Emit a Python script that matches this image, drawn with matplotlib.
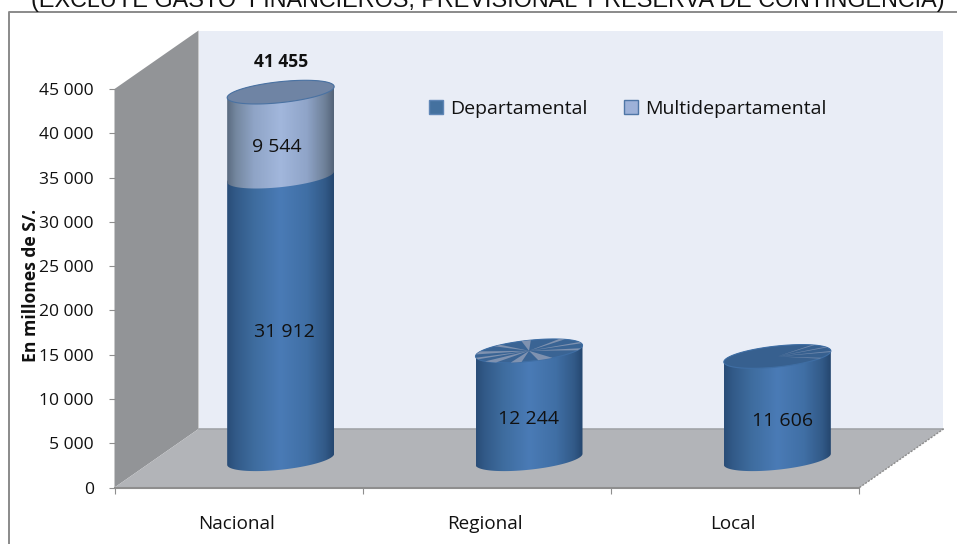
import numpy as np
import matplotlib
matplotlib.use("Agg")
import matplotlib.pyplot as plt
from matplotlib.colors import LinearSegmentedColormap
from matplotlib.patches import Patch, PathPatch, Polygon
from matplotlib.path import Path
from matplotlib.ticker import FuncFormatter
from matplotlib.transforms import ScaledTranslation

categories = ["Nacional", "Regional", "Local"]
departamental = [31912, 12244, 11606]
multidepartamental = [9544, 0, 0]
total_label = "41 455"
series_names = ["Departamental", "Multidepartamental"]
y_ticks = list(range(0, 45001, 5000))
title = "(EXCLUYE GASTO  FINANCIEROS, PREVISIONAL Y RESERVA DE CONTINGENCIA)"
y_label = "En millones de S/."

W, H = 957, 544
FONT = "Open Sans"
plt.rcParams["font.family"] = [FONT, "DejaVu Sans"]

fig = plt.figure(figsize=(W / 100, H / 100), dpi=100, facecolor="white")
L, R, B, T = 114.5, 859.5, 487.5, 89.0
ax = fig.add_axes([L / W, 1 - B / H, (R - L) / W, (B - T) / H])
ax.set_xlim(-0.5, 2.5)
ax.set_ylim(0, 45000)
ax.patch.set_visible(False)

PX_X = 3.0 / (R - L)          # data units per pixel
PX_Y = 45000 / (B - T)
DX, DY = 84 * PX_X, 58.5 * PX_Y
A = 53.5 * PX_X               # cylinder half width
EB = 10.5 * PX_Y              # ellipse half height
TILT = 5.5 * PX_Y             # ellipse tilt (right side up)
V0 = DY / 2 - 1 * PX_Y

# outer frame
fig.add_artist(plt.Line2D([8.5 / W, 8.5 / W, 1], [0, 1 - 11.5 / H, 1 - 11.5 / H],
                          color="#8a8a8a", lw=1.4))

# walls and floor
ax.add_patch(Polygon([(-.5 + DX, DY), (2.5 + DX, DY), (2.5 + DX, 45000 + DY), (-.5 + DX, 45000 + DY)],
                     fc="#E9EDF6", ec="none", clip_on=False, zorder=1))
ax.add_patch(Polygon([(-.5, 0), (-.5 + DX, DY), (-.5 + DX, 45000 + DY), (-.5, 45000)],
                     fc="#929497", ec="none", clip_on=False, zorder=1))
ax.add_patch(Polygon([(-.5, 0), (2.5, 0), (2.5 + DX, DY), (-.5 + DX, DY)],
                     fc="#B2B4B8", ec="none", clip_on=False, zorder=1))
ax.plot([-.5 + DX, 2.5 + DX], [DY, DY], color="#a2a4a8", lw=1.2, clip_on=False, zorder=1.5)
ax.plot([2.5, 2.5 + DX], [0, DY], color="#8c8c8c", lw=1.0, ls=(0, (1.5, 1)), clip_on=False, zorder=1.5)

cm_low = LinearSegmentedColormap.from_list("low", [
    (0, "#2A4D78"), (0.08, "#325A88"), (0.25, "#3E6C9E"), (0.5, "#4A7BB6"),
    (0.75, "#406FA5"), (0.92, "#325A88"), (1, "#254770")])
cm_up = LinearSegmentedColormap.from_list("up", [
    (0, "#5B6B80"), (0.08, "#74879F"), (0.25, "#8FA4C6"), (0.5, "#A2B7DC"),
    (0.75, "#8FA4C8"), (0.92, "#6E8098"), (1, "#546479")])


def ell(cx, v, t):
    t = np.asarray(t, dtype=float)
    return cx + A * np.cos(t), v + EB * np.sin(t) + TILT * np.cos(t)


def body(cx, v1, v2, cmap, z):
    tb = np.linspace(np.pi, 2 * np.pi, 80)
    tt = np.linspace(0, np.pi, 80)
    xb, yb = ell(cx, v1, tb)
    xt, yt = ell(cx, v2, tt)
    verts = np.column_stack([np.r_[xb, xt], np.r_[yb, yt]])
    clip = PathPatch(Path(np.vstack([verts, verts[0]]), closed=True), transform=ax.transData,
                     fc="none", ec="none")
    ax.add_patch(clip)
    clip.set_clip_on(False)
    im = ax.imshow(np.linspace(0, 1, 200)[None, :], cmap=cmap, aspect="auto",
                   extent=(cx - A, cx + A, v1 - 2 * EB, v2 + 2 * EB),
                   origin="lower", zorder=z, interpolation="bilinear")
    im.set_clip_box(fig.bbox)
    im.set_clip_path(clip)


def top(cx, v, fc, edge, rays, ray_c, z):
    t = np.linspace(0, 2 * np.pi, 160)
    x, y = ell(cx, v, t)
    ax.fill(x, y, fc=fc, ec=edge, lw=.8, clip_on=False, zorder=z)
    for a1, a2 in rays:
        xr, yr = ell(cx, v, np.deg2rad(np.linspace(a1, a2, 6)))
        ax.fill(np.r_[cx, xr], np.r_[v, yr], fc=ray_c, ec="none", clip_on=False, zorder=z + .1)


rays_regional = [(155, 170), (188, 198), (215, 232), (250, 262), (280, 296), (335, 345),
                 (12, 20), (48, 56), (88, 98), (122, 130)]
rays_local = [(22, 27), (46, 50), (-6, 0), (-38, -34)]

for i, cx0 in enumerate(range(len(categories))):
    cx = cx0 + DX / 2
    d, m = departamental[i], multidepartamental[i]
    body(cx, V0, V0 + d, cm_low, 3)
    if m:
        body(cx, V0 + d, V0 + d + m, cm_up, 4)
        top(cx, V0 + d + m, "#6F84A4", "#4A72A2", [], "#6C82A5", 5)
    else:
        top(cx, V0 + d, "#3A6494" if i == 1 else "#37608F", "#3F6EA4",
            rays_regional if i == 1 else rays_local,
            "#7F92B0" if i == 1 else "#6F88AC", 5)

ax.set_xlim(-0.5, 2.5)
ax.set_ylim(0, 45000)

# value labels


def lab(x, v, s, ox, oy, size=14, **kw):
    ax.annotate(s, (x + DX / 2, V0 + v), xytext=(ox * .72, oy * .72), textcoords="offset points",
                ha="center", va="center", fontsize=size, color="#111111", zorder=8,
                annotation_clip=False, **kw)


fmt = lambda v: f"{v:,.0f}".replace(",", " ")
lab(0, departamental[0] / 2, fmt(departamental[0]), 4, -14.5)
lab(0, departamental[0] + multidepartamental[0] / 2, fmt(multidepartamental[0]), -4, -13)
lab(0, departamental[0] + multidepartamental[0], total_label, 0, 30, size=12.6, fontweight="bold")
lab(1, departamental[1] / 2, fmt(departamental[1]), -1, -14)
lab(2, departamental[2] / 2, fmt(departamental[2]), 5, -13)

# axes
for s in ["top", "right"]:
    ax.spines[s].set_visible(False)
ax.spines["left"].set_visible(False)
ax.spines["bottom"].set_color("#8e8e8e")
ax.spines["bottom"].set_linewidth(1.5)
ax.spines["bottom"].set_zorder(2)
ax.set_yticks(y_ticks)
ax.yaxis.set_major_formatter(FuncFormatter(lambda v, _: fmt(v)))
ax.tick_params(axis="y", length=4.5, width=.8, color="#8e8e8e", labelsize=12.6, pad=10.5,
               labelcolor="#111111")
ax.set_xticks([-.5, .5, 1.5, 2.5])
ax.set_xticklabels([])
ax.set_xticks(range(3), categories, minor=True)
ax.tick_params(axis="x", which="major", length=4.5, width=.8, color="#8e8e8e")
ax.tick_params(axis="x", which="minor", length=0, labelsize=13.6, pad=19.5, labelcolor="#111111")
shift = ScaledTranslation(-2 / 100, 0, fig.dpi_scale_trans)
for t in ax.get_xticklabels(minor=True):
    t.set_transform(t.get_transform() + shift)

fig.text(31 / W, 1 - 285 / H, y_label, rotation=90, ha="center", va="center",
         fontsize=12.6, fontweight="bold", color="#111111", zorder=9)

handles = [Patch(fc="#44719F", ec="#5F86B6", lw=1), Patch(fc="#9DB1D8", ec="#4F76A6", lw=1)]
ax.legend(handles, series_names, ncol=2, loc="center", frameon=False,
          bbox_to_anchor=(628 / W, 1 - 109 / H), bbox_transform=fig.transFigure,
          fontsize=14, handlelength=.72, handleheight=.72, handletextpad=.35,
          columnspacing=1.9, labelcolor="#111111", borderpad=0).set_zorder(9)

fig.text(487.5 / W, 1 - 7 / H, title, ha="center", va="baseline",
         family="Liberation Sans", fontsize=16.8, color="#111111")

fig.savefig("out.png", dpi=100)
